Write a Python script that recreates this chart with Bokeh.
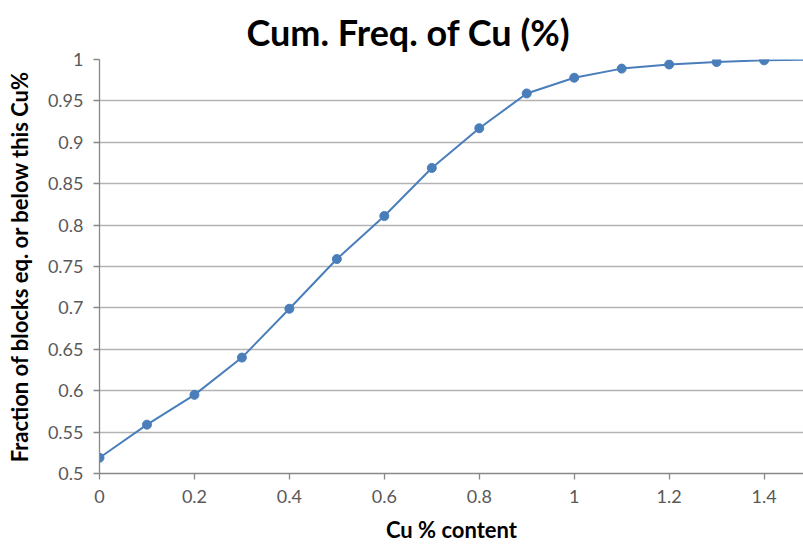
from bokeh.plotting import figure
from bokeh.models import Range1d, FixedTicker, Title
from bokeh.embed import file_html
from bokeh.resources import INLINE

# Cumulative frequency of Cu grade
cu_pct = [0.0, 0.1, 0.2, 0.3, 0.4, 0.5, 0.6, 0.7, 0.8, 0.9, 1.0, 1.1, 1.2, 1.3, 1.4, 1.5]
cum_frac = [0.519, 0.559, 0.595, 0.640, 0.699, 0.759, 0.811, 0.869, 0.917, 0.959,
            0.978, 0.989, 0.994, 0.997, 0.999, 1.0]

x_ticks = [0, 0.2, 0.4, 0.6, 0.8, 1.0, 1.2, 1.4]
y_ticks = [0.5, 0.55, 0.6, 0.65, 0.7, 0.75, 0.8, 0.85, 0.9, 0.95, 1.0]

FONT = "Lato"
LINE_BLUE = "#4a7ebb"

p = figure(width=803, height=545, output_backend="svg", toolbar_location=None,
           x_range=Range1d(0, 1.483), y_range=Range1d(0.5, 1.0),
           min_border_left=99, min_border_right=0, min_border_top=59,
           min_border_bottom=72, outline_line_color=None)

p.title = Title(text="Cum. Freq. of Cu (%)", align="left", offset=147,
                text_font=FONT, text_font_size="36px", text_font_style="bold",
                text_color="#000000", standoff=12)

p.line(cu_pct, cum_frac, line_color=LINE_BLUE, line_width=2)
p.scatter(cu_pct, cum_frac, size=9, fill_color=LINE_BLUE, line_color=LINE_BLUE)

# grid: horizontal lines only
p.xgrid.grid_line_color = None
p.ygrid.grid_line_color = "#b3b3b3"
p.ygrid.grid_line_width = 1.3
p.ygrid.ticker = FixedTicker(ticks=y_ticks)

for ax in (p.xaxis[0], p.yaxis[0]):
    ax.axis_line_color = "#888888"
    ax.axis_line_width = 1.3
    ax.major_tick_line_color = "#888888"
    ax.major_tick_line_width = 1.3
    ax.major_tick_out = 6
    ax.major_tick_in = 0
    ax.minor_tick_line_color = None
    ax.major_label_text_font = FONT
    ax.major_label_text_font_size = "18px"
    ax.major_label_text_color = "#595959"
    ax.axis_label_text_font = FONT
    ax.axis_label_text_font_size = "22px"
    ax.axis_label_text_font_style = "bold"
    ax.axis_label_text_color = "#000000"

p.xaxis.ticker = FixedTicker(ticks=x_ticks)
p.yaxis.ticker = FixedTicker(ticks=y_ticks)
p.xaxis.major_label_overrides = {0: "0", 1.0: "1"}
p.yaxis.major_label_overrides = {1.0: "1"}
p.xaxis.axis_label = "Cu % content"
p.yaxis.axis_label = "Fraction of blocks eq. or below this Cu%"
p.xaxis.major_label_standoff = 10
p.xaxis.axis_label_standoff = 10
p.yaxis.major_label_standoff = 10
p.yaxis.axis_label_standoff = 12

open("out.html", "w").write(file_html(p, INLINE))
